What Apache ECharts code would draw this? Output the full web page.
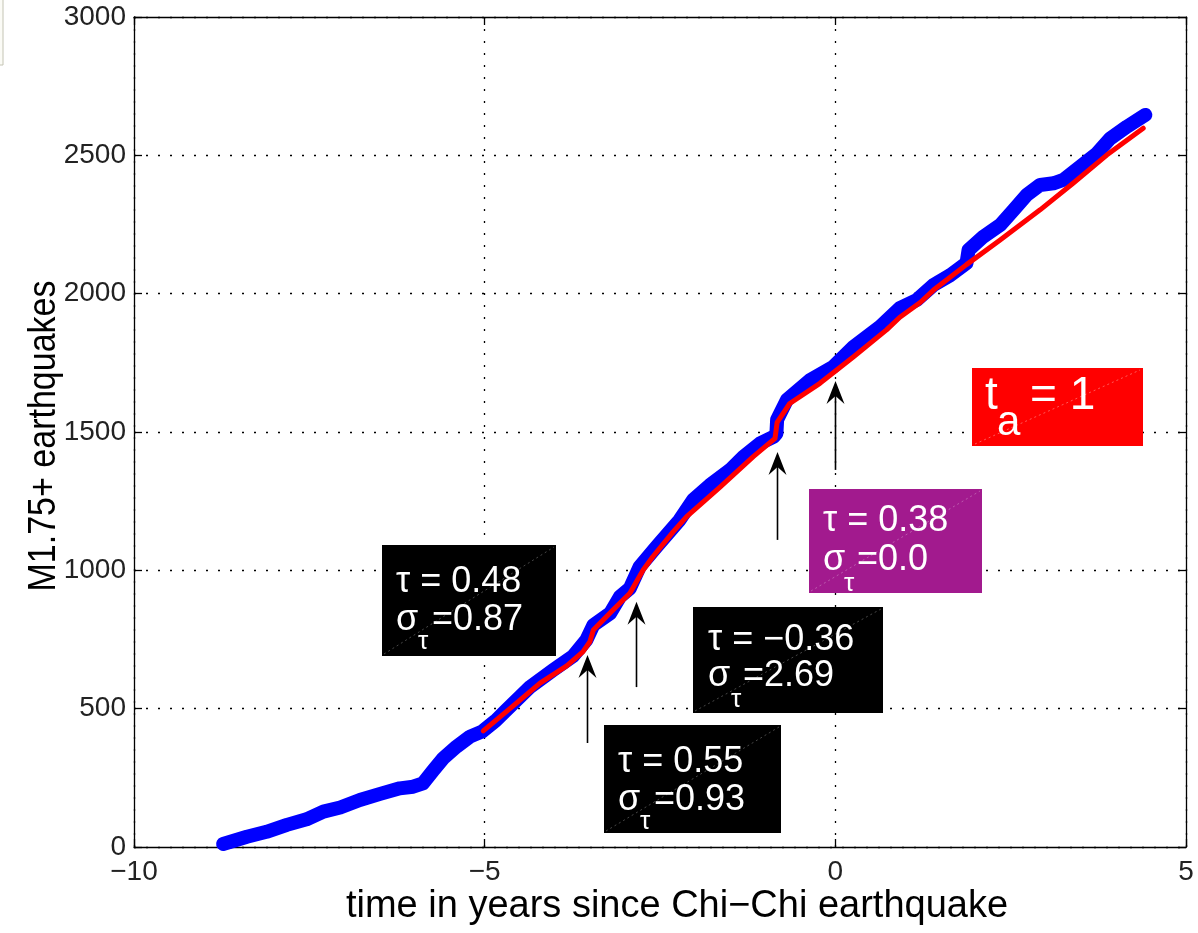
<!DOCTYPE html>
<html>
<head>
<meta charset="utf-8">
<script src="https://cdn.jsdelivr.net/npm/echarts@6/dist/echarts.min.js"></script>
<style>
  html, body { margin: 0; padding: 0; background: #fff; }
  #chart { width: 1198px; height: 933px; }
</style>
</head>
<body>
<div id="chart"></div>
<script>
// Cumulative number of M1.75+ earthquakes against time (years) relative to the Chi-Chi mainshock
const quakeTime = [-8.73, -8.39, -8.11, -7.82, -7.54, -7.30, -7.06, -6.78, -6.49, -6.21, -6.02, -5.88,
  -5.73, -5.59, -5.40, -5.21, -5.04, -4.85, -4.69, -4.35, -4.02, -3.74, -3.55, -3.45, -3.21, -3.07,
  -2.93, -2.79, -2.55, -2.22, -2.03, -1.79, -1.50, -1.31, -1.07, -0.88, -0.84, -0.83, -0.69, -0.36,
  -0.03, 0.26, 0.64, 0.92, 1.16, 1.40, 1.64, 1.87, 1.90, 2.11, 2.35, 2.54, 2.73, 2.92, 3.11, 3.25,
  3.49, 3.73, 3.92, 4.16, 4.42];
const quakeCount = [11, 37, 55, 80, 100, 128, 143, 170, 192, 212, 218, 230,
  278, 321, 363, 399, 417, 455, 495, 579, 640, 690, 748, 802, 845, 905,
  935, 1013, 1085, 1182, 1254, 1308, 1363, 1411, 1459, 1483, 1495, 1545, 1616, 1688,
  1736, 1808, 1881, 1948, 1977, 2031, 2067, 2110, 2158, 2206, 2248, 2302, 2357, 2393, 2399, 2411,
  2459, 2507, 2561, 2604, 2646];

// Model fit (red) starting five years before the mainshock
const fitTime = [-5.02, -4.64, -4.21, -3.83, -3.60, -3.50, -3.45, -3.17, -2.93, -2.74, -2.60, -2.31,
  -2.12, -1.64, -1.17, -0.86, -0.83, -0.65, -0.22, 0.26, 0.73, 0.92, 1.21, 1.40, 1.87, 2.35, 2.92,
  3.39, 3.87, 4.39];
const fitCount = [420, 500, 592, 655, 705, 742, 784, 857, 917, 1001, 1050, 1140,
  1194, 1302, 1411, 1477, 1535, 1603, 1676, 1772, 1869, 1915, 1968, 2013, 2105, 2194, 2303,
  2399, 2501, 2598];

// Axis ticks
const xTickValues = [-10, -5, 0, 5];
const yTickValues = [0, 500, 1000, 1500, 2000, 2500, 3000];

// Axis titles
const xTitle = 'time in years since Chi\u2212Chi earthquake';
const yTitle = 'M1.75+ earthquakes';

// Annotation values: foreshock-sequence parameters and their uncertainties
const tauLabels = ['0.48', '0.55', '\u22120.36', '0.38'];
const sigmaLabels = ['0.87', '0.93', '2.69', '0.0'];
const taLabel = '1';
// Arrows marking the sequences: [time, count at tail, count at head]
const arrowTime = [-3.54, -2.84, -0.83, 0];
const arrowTail = [376, 578, 1110, 1363];
const arrowHead = [694, 886, 1428, 1684];

const FONT = '"Liberation Sans", Arial, sans-serif';
const chart = echarts.init(document.getElementById('chart'), null, { renderer: 'canvas' });

const pair = (xs, ys) => xs.map((x, i) => [x, ys[i]]);
const minusFmt = v => String(v).replace('-', '\u2212');

const axisCommon = {
  axisLine: { show: true, onZero: false, lineStyle: { color: '#000', width: 1.3 } },
  axisTick: { show: true, inside: true, length: 8, lineStyle: { color: '#000', width: 1.3 } },
};

chart.setOption({
  animation: false,
  backgroundColor: '#fff',
  grid: { left: 134, right: 12, top: 17, bottom: 86, containLabel: false, outerBoundsMode: 'none' },
  xAxis: [
    Object.assign({
      type: 'value', min: xTickValues[0], max: xTickValues[xTickValues.length - 1], interval: 5,
      position: 'bottom',
      axisLabel: { fontSize: 28, fontFamily: FONT, color: '#222', margin: 11, formatter: minusFmt },
      splitLine: { show: true, lineStyle: { color: '#000', width: 1.3, type: [2, 10] } }
    }, axisCommon),
    Object.assign({
      type: 'value', min: xTickValues[0], max: xTickValues[xTickValues.length - 1], interval: 5,
      position: 'top', axisLabel: { show: false }, splitLine: { show: false }
    }, axisCommon)
  ],
  yAxis: [
    Object.assign({
      type: 'value', min: yTickValues[0], max: yTickValues[yTickValues.length - 1], interval: 500,
      position: 'left',
      axisLabel: { fontSize: 28, fontFamily: FONT, color: '#222', margin: 8, formatter: v => String(v) },
      splitLine: { show: true, lineStyle: { color: '#000', width: 1.3, type: [2, 10] } }
    }, axisCommon),
    Object.assign({
      type: 'value', min: yTickValues[0], max: yTickValues[yTickValues.length - 1], interval: 500,
      position: 'right', axisLabel: { show: false }, splitLine: { show: false }
    }, axisCommon)
  ],
  series: [
    {
      name: 'observed', type: 'line', data: pair(quakeTime, quakeCount),
      showSymbol: false, smooth: false,
      lineStyle: { color: '#0000ff', width: 14, cap: 'round', join: 'round' },
      z: 3
    },
    {
      name: 'fit', type: 'line', data: pair(fitTime, fitCount),
      showSymbol: false, smooth: false,
      lineStyle: { color: '#ff0000', width: 5, cap: 'round', join: 'round' },
      z: 4
    }
  ]
});

// Text boxes with tau / sigma_tau values
const boxLayout = [
  { x: 382, y: 545, w: 174, h: 111, fill: '#000000', tx: 396, l1: 582, l2: 620, sub: 642, subDx: 22, eqDx: 36 },
  { x: 604, y: 725, w: 177, h: 108, fill: '#000000', tx: 618, l1: 762, l2: 800, sub: 822, subDx: 22, eqDx: 36 },
  { x: 693, y: 607, w: 190, h: 106, fill: '#000000', tx: 708, l1: 640, l2: 676, sub: 700, subDx: 23, eqDx: 35 },
  { x: 809, y: 489, w: 173, h: 104, fill: '#a21a8e', tx: 823, l1: 521, l2: 560, sub: 584, subDx: 21, eqDx: 34 }
];

function txt(x, y, s, size, color) {
  return {
    type: 'text', x: x, y: y, z: 20,
    style: { text: s, fill: color || '#fff', font: size + 'px ' + FONT, textAlign: 'left', textVerticalAlign: 'middle', verticalAlign: 'middle' }
  };
}

const graphics = [];
boxLayout.forEach((b, i) => {
  graphics.push({ type: 'rect', shape: { x: b.x, y: b.y, width: b.w, height: b.h }, style: { fill: b.fill }, z: 15 });
  graphics.push({ type: 'line', shape: { x1: b.x + 2, y1: b.y + b.h - 2, x2: b.x + b.w - 2, y2: b.y + 2 },
    style: { stroke: 'rgba(255,255,255,0.28)', lineWidth: 1, lineDash: [2, 3] }, z: 16 });
  graphics.push(txt(b.tx, b.l1, '\u03c4 = ' + tauLabels[i], 36));
  graphics.push(txt(b.tx, b.l2, '\u03c3', 36));
  graphics.push(txt(b.tx + b.subDx, b.sub, '\u03c4', 26));
  graphics.push(txt(b.tx + b.eqDx, b.l2, '=' + sigmaLabels[i], 36));
});

// Red t_a box
graphics.push({ type: 'rect', shape: { x: 972, y: 368, width: 171, height: 78 }, style: { fill: '#ff0000' }, z: 15 });
graphics.push({ type: 'line', shape: { x1: 975, y1: 444, x2: 1140, y2: 370 },
  style: { stroke: 'rgba(255,255,255,0.35)', lineWidth: 1, lineDash: [2, 3] }, z: 16 });
graphics.push(txt(985, 396, 't', 46));
graphics.push(txt(997, 423, 'a', 42));
graphics.push(txt(1030, 396, '= ' + taLabel, 46));

// Axis titles
graphics.push({ type: 'text', x: 677, y: 907, z: 20,
  style: { text: xTitle, fill: '#000', font: '38px ' + FONT, textAlign: 'center', textVerticalAlign: 'middle', verticalAlign: 'middle' } });
graphics.push({ type: 'text', x: 44, y: 436, rotation: Math.PI / 2, scaleY: 1.15, z: 20,
  style: { text: yTitle, fill: '#000', font: '34px ' + FONT, textAlign: 'center', textVerticalAlign: 'middle', verticalAlign: 'middle' } });

// Arrows pointing up at the sequences
arrowTime.forEach((t, i) => {
  const tail = chart.convertToPixel({ xAxisIndex: 0, yAxisIndex: 0 }, [t, arrowTail[i]]);
  const head = chart.convertToPixel({ xAxisIndex: 0, yAxisIndex: 0 }, [t, arrowHead[i]]);
  const x = Math.round(tail[0]) + 0.5;
  graphics.push({ type: 'line', shape: { x1: x, y1: tail[1], x2: x, y2: head[1] + 12 },
    style: { stroke: '#000', lineWidth: 1.6 }, z: 12 });
  graphics.push({ type: 'polygon', shape: { points: [[x, head[1]], [x - 9, head[1] + 23], [x, head[1] + 15], [x + 9, head[1] + 23]] },
    style: { fill: '#000' }, z: 12 });
});

// Window edge in the top-left corner
graphics.push({ type: 'rect', shape: { x: -20, y: -20, width: 23, height: 85 }, style: { fill: '#fbfbf6', stroke: '#c4c4b4', lineWidth: 1 }, z: 1 });

chart.setOption({ graphic: graphics });
</script>
</body>
</html>
